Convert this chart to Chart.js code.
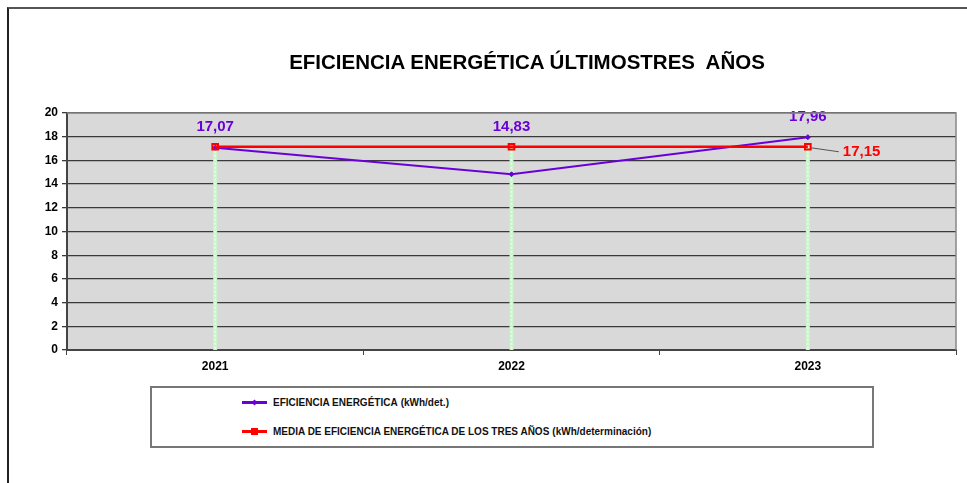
<!DOCTYPE html>
<html>
<head>
<meta charset="utf-8">
<script src="https://cdn.jsdelivr.net/npm/chart.js@4.4.1/dist/chart.umd.min.js"></script>
<style>
  html,body{margin:0;padding:0;background:#fff;}
  #wrap{position:relative;width:967px;height:483px;overflow:hidden;}
  #frame{position:absolute;left:7px;top:7px;width:970px;height:490px;border-left:2px solid #222;border-top:2px solid #555;}
  #c{position:absolute;left:0;top:0;}
  #title{position:absolute;left:0;width:1054px;top:50px;text-align:center;white-space:pre;
         font-family:"Liberation Sans",Arial,sans-serif;font-weight:bold;font-size:20.5px;color:#000;}
  #legend{position:absolute;left:150px;top:386px;width:720px;height:58px;border:2px solid #777;background:#fff;
          font-family:"Liberation Sans",Arial,sans-serif;font-weight:bold;color:#111;}
  .item{position:absolute;left:90px;height:14px;display:flex;align-items:center;font-size:10px;white-space:nowrap;}
  .item small{font-size:10px;margin-left:3px;}
  .swatch{position:relative;width:25px;height:14px;margin-right:6px;}
  .swatch .ln{position:absolute;left:0;right:0;top:6px;height:3px;}
  .swatch .mk{position:absolute;left:9px;top:4px;width:7px;height:7px;}
</style>
</head>
<body>
<div id="wrap">
  <div id="frame"></div>
  <canvas id="c" width="967" height="483"></canvas>
  <div id="title"></div>
  <div id="legend"></div>
</div>
<script>
// ========= DATOS =========
const years = ['2021','2022','2023'];
const eficiencia = [17.07, 14.83, 17.96];
const media = [17.15, 17.15, 17.15];
const yMin = 0, yMax = 20, yStep = 2;
const serieLabels = ['EFICIENCIA ENERGÉTICA', 'MEDIA DE EFICIENCIA ENERGÉTICA DE LOS TRES AÑOS'];
const serieUnits = ['(kWh/det.)', '(kWh/determinación)'];
const titulo = 'EFICIENCIA ENERGÉTICA ÚLTIMOSTRES  AÑOS';

const PURPLE = '#6a00d8', RED = '#ff0000';
const FONT = '"Liberation Sans", Arial, sans-serif';
const fmt = v => v.toFixed(2).replace('.', ',');

document.getElementById('title').textContent = titulo;

// ========= PLUGINS =========
// fondo gris del área de trazado + líneas verticales verdes
const dropLines = {
  id:'dropLines',
  beforeDraw(chart){
    const {ctx, chartArea:a} = chart;
    ctx.save();
    ctx.fillStyle = '#d9d9d9';
    ctx.fillRect(a.left, a.top, a.right-a.left, a.bottom-a.top);
    ctx.restore();
  },
  beforeDatasetsDraw(chart){
    const {ctx, scales:{x,y}} = chart;
    ctx.save();
    media.forEach((v,i)=>{
      const px = x.getPixelForValue(i);
      ctx.strokeStyle = '#c9f5c9'; ctx.lineWidth = 4;
      ctx.beginPath(); ctx.moveTo(px, y.getPixelForValue(v)); ctx.lineTo(px, y.getPixelForValue(0)); ctx.stroke();
      ctx.strokeStyle = '#eaffea'; ctx.lineWidth = 1.5; ctx.setLineDash([2,2]);
      ctx.beginPath(); ctx.moveTo(px, y.getPixelForValue(v)); ctx.lineTo(px, y.getPixelForValue(0)); ctx.stroke();
      ctx.setLineDash([]);
    });
    ctx.restore();
  },
  afterDraw(chart){
    // borde derecho y superior del área de trazado
    const {ctx, chartArea:a} = chart;
    ctx.save(); ctx.strokeStyle = '#888'; ctx.lineWidth = 1.5;
    ctx.beginPath(); ctx.moveTo(a.left, a.top); ctx.lineTo(a.right, a.top); ctx.lineTo(a.right, a.bottom); ctx.stroke();
    ctx.restore();
  }
};

// etiquetas de valores
const valueLabels = {
  id:'valueLabels',
  afterDatasetsDraw(chart){
    const {ctx, scales:{x,y}} = chart;
    ctx.save();
    ctx.font = 'bold 15px ' + FONT;
    ctx.textAlign = 'center'; ctx.textBaseline = 'middle';
    ctx.fillStyle = PURPLE;
    eficiencia.forEach((v,i)=>{
      const top = Math.max(v, media[i]);
      ctx.fillText(fmt(v), x.getPixelForValue(i), y.getPixelForValue(top) - 20);
    });
    // etiqueta de la media con línea guía
    const last = media.length-1;
    const px = x.getPixelForValue(last), py = y.getPixelForValue(media[last]);
    ctx.strokeStyle = '#555'; ctx.lineWidth = 1;
    ctx.beginPath(); ctx.moveTo(px+3, py+1); ctx.lineTo(px+31, py+5); ctx.stroke();
    ctx.fillStyle = RED; ctx.textAlign = 'left';
    ctx.fillText(fmt(media[last]), px+35, py+5);
    ctx.restore();
  }
};

// ========= GRÁFICO =========
const chart = new Chart(document.getElementById('c'), {
  type:'line',
  data:{
    labels: years,
    datasets:[
      {label: serieLabels[1], data: media, borderColor: RED, backgroundColor:'rgba(0,0,0,0)',
       borderWidth: 2.5, pointStyle:'rect', pointRadius: 4, pointBorderWidth: 2,
       pointBorderColor: RED, pointBackgroundColor:'rgba(0,0,0,0)', tension:0},
      {label: serieLabels[0], data: eficiencia, borderColor: PURPLE, backgroundColor: PURPLE,
       borderWidth: 2, pointStyle:'rectRot', pointRadius: 2.5, pointBorderWidth: 1, tension:0}
    ]
  },
  options:{
    responsive:false, animation:false, devicePixelRatio:1,
    layout:{padding:{left:0, right:11, top:113, bottom:103}},
    plugins:{
      legend:{display:false},
      tooltip:{enabled:false},
      title:{display:false}
    },
    scales:{
      x:{
        offset:true,
        grid:{offset:true, drawOnChartArea:false, drawTicks:true, tickLength:5, color:'#444'},
        border:{color:'#444', width:2},
        ticks:{color:'#000', padding:4, font:{family: FONT, size:12, weight:'bold'}},
        afterFit(s){ s.height = 30; }
      },
      y:{
        min:yMin, max:yMax,
        grid:{color:'#3a3a3a', lineWidth:1.3, tickLength:5, drawTicks:true},
        border:{color:'#444', width:2},
        ticks:{stepSize:yStep, color:'#000', padding:4, font:{family: FONT, size:12, weight:'bold'}},
        afterFit(s){ s.width = 67; }
      }
    }
  },
  plugins:[dropLines, valueLabels]
});

// ========= LEYENDA HTML =========
const legend = document.getElementById('legend');
const legendRows = [
  {label: serieLabels[0], unit: serieUnits[0], color: PURPLE, marker:'diamond', top:10},
  {label: serieLabels[1], unit: serieUnits[1], color: RED, marker:'square', top:39}
];
legendRows.forEach(r=>{
  const it = document.createElement('div');
  it.className = 'item'; it.style.top = (r.top - 3) + 'px';
  const mk = r.marker === 'square'
    ? `<div class="mk" style="background:${r.color}"></div>`
    : `<div class="mk" style="background:${r.color};transform:rotate(45deg) scale(0.6)"></div>`;
  it.innerHTML = `<div class="swatch"><div class="ln" style="background:${r.color}"></div>${mk}</div>${r.label}<small>${r.unit}</small>`;
  legend.appendChild(it);
});
</script>
</body>
</html>
